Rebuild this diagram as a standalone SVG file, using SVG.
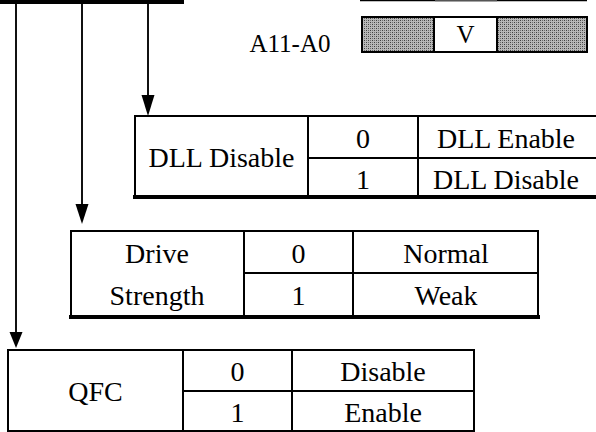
<svg xmlns="http://www.w3.org/2000/svg" width="596" height="432" viewBox="0 0 596 432">
<style>
text{font-family:'Liberation Serif','Times New Roman',Times,serif;font-size:28px;fill:#000;text-anchor:middle}
.b{fill:none;stroke:#000;stroke-width:2}
.tb{fill:none;stroke:#000;stroke-width:4}
.c{fill:none;stroke:#111;stroke-width:2}
.s{font-size:25px}
</style>
<defs>
<pattern id="hatch" width="4" height="4" patternUnits="userSpaceOnUse">
<rect width="4" height="4" fill="#b8b8b8"/>
<rect x="0" y="0" width="1" height="1" fill="#404040"/>
<rect x="2" y="2" width="1" height="1" fill="#404040"/>
<rect x="2" y="0" width="1" height="1" fill="#707070"/>
<rect x="0" y="2" width="1" height="1" fill="#707070"/>
</pattern>
</defs>
<g id="bus">
<rect x="0" y="0" width="184" height="4" fill="#000"/>
</g>
<g id="connectors">
<line class="c" x1="16" y1="4" x2="16" y2="333"/>
<path d="M9.5,332 L22.5,332 L16,348 Z" fill="#000"/>
<line class="c" x1="82" y1="4" x2="82" y2="205"/>
<path d="M75.5,204 L88.5,204 L82,224 Z" fill="#000"/>
<line class="c" x1="148" y1="4" x2="148" y2="96"/>
<path d="M141.5,95 L154.5,95 L148,116 Z" fill="#000"/>
</g>
<g id="topright">
<line x1="360" y1="0.5" x2="587" y2="0.5" stroke="#000" stroke-width="1.5"/>
<line x1="435" y1="0.5" x2="497" y2="0.5" stroke="#555" stroke-width="1.5"/>
</g>
<g id="addr">
<text class="s" x="290" y="52">A11-A0</text>
<rect x="362" y="17" width="72" height="35" fill="url(#hatch)"/>
<rect x="497" y="17" width="90" height="35" fill="url(#hatch)"/>
<rect x="362" y="17" width="225" height="35" class="b"/>
<line x1="434" y1="17" x2="434" y2="52" class="b"/>
<line x1="497" y1="17" x2="497" y2="52" class="b"/>
<text class="s" x="465.5" y="43">V</text>
</g>
<g id="dll">
<path class="b" d="M598,116 H135 V197"/>
<line class="tb" x1="133" y1="197" x2="598" y2="197"/>
<line class="b" x1="308" y1="116" x2="308" y2="197"/>
<line class="b" x1="418" y1="116" x2="418" y2="197"/>
<line class="b" x1="308" y1="158" x2="598" y2="158"/>
<text x="221.5" y="167">DLL Disable</text>
<text x="363" y="148">0</text>
<text x="363" y="189">1</text>
<text x="506" y="148">DLL Enable</text>
<text x="506" y="189">DLL Disable</text>
</g>
<g id="drive">
<rect class="b" x="71" y="231" width="467" height="86"/>
<line class="tb" x1="69" y1="317" x2="540" y2="317"/>
<line class="b" x1="244" y1="231" x2="244" y2="317"/>
<line class="b" x1="353" y1="231" x2="353" y2="317"/>
<line class="b" x1="244" y1="273" x2="538" y2="273"/>
<text x="157" y="263">Drive</text>
<text x="157" y="305">Strength</text>
<text x="298.5" y="263">0</text>
<text x="298.5" y="305">1</text>
<text x="446" y="263">Normal</text>
<text x="446" y="305">Weak</text>
</g>
<g id="qfc">
<rect class="b" x="8" y="350" width="466" height="81"/>
<line class="b" x1="183" y1="350" x2="183" y2="431"/>
<line class="b" x1="292" y1="350" x2="292" y2="431"/>
<line class="b" x1="183" y1="391" x2="474" y2="391"/>
<text x="95.5" y="401">QFC</text>
<text x="237.5" y="381">0</text>
<text x="237.5" y="422">1</text>
<text x="383" y="381">Disable</text>
<text x="383" y="422">Enable</text>
</g>
</svg>
